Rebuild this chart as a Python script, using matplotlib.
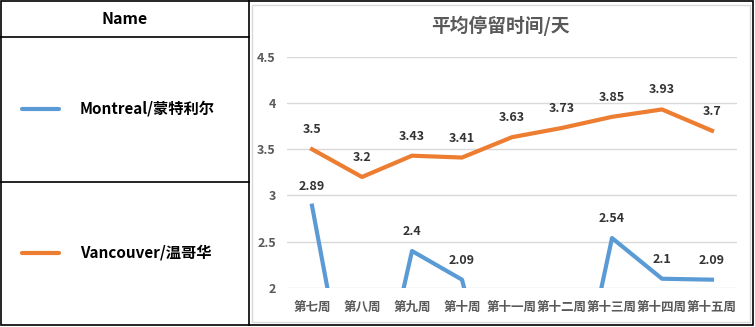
import matplotlib.pyplot as plt
from matplotlib.patches import Rectangle
from matplotlib.lines import Line2D

plt.rcParams['font.family'] = ['Noto Sans CJK SC', 'DejaVu Sans']

# datos
weeks = ['第七周', '第八周', '第九周', '第十周', '第十一周', '第十二周',
         '第十三周', '第十四周', '第十五周']
montreal = [2.89, 0, 2.4, 2.09, 0, 0, 2.54, 2.1, 2.09]
vancouver = [3.5, 3.2, 3.43, 3.41, 3.63, 3.73, 3.85, 3.93, 3.7]
series_names = ['Montreal/蒙特利尔', 'Vancouver/温哥华']
colors = ['#5B9BD5', '#ED7D31']
y_ticks = [2, 2.5, 3, 3.5, 4, 4.5]
y_tick_labels = ['2', '2.5', '3', '3.5', '4', '4.5']

W, H = 755, 327
fig = plt.figure(figsize=(W / 100, H / 100), dpi=100)


def fx(px):
    return px / W


def fy(py):
    return 1 - py / H


# tabla de la izquierda
black = '#000000'
fig.add_artist(Rectangle((fx(1), fy(325)), fx(752), 324 / H, transform=fig.transFigure,
                         fill=False, edgecolor=black, linewidth=1.2))
fig.add_artist(Line2D([fx(249), fx(249)], [fy(1), fy(325)], transform=fig.transFigure,
                      color=black, linewidth=1.2))
for yy in [37, 181.5]:
    fig.add_artist(Line2D([fx(1), fx(249)], [fy(yy), fy(yy)], transform=fig.transFigure,
                          color=black, linewidth=1.2))
fig.text(fx(125), fy(19), 'Name', ha='center', va='center', fontsize=11.5,
         fontweight='bold', color='#000000')
for name, c, yy in zip(series_names, colors, [109, 253]):
    fig.add_artist(Line2D([fx(22), fx(59)], [fy(yy), fy(yy)], transform=fig.transFigure,
                          color=c, linewidth=3, solid_capstyle='round'))
    fig.text(fx(80), fy(yy), name, ha='left', va='center', fontsize=11,
             fontweight='bold', color='#000000')

# borde del area del grafico
fig.add_artist(Rectangle((fx(252), fy(322)), fx(498), 317 / H, transform=fig.transFigure,
                         fill=False, edgecolor='#D9D9D9', linewidth=1))

ax = fig.add_axes([fx(287), fy(288), fx(450), (288 - 56.7) / H])
x = list(range(len(weeks)))
ax.plot(x, vancouver, color=colors[1], linewidth=3, zorder=3)
ax.plot(x, montreal, color=colors[0], linewidth=3, zorder=3)

for xs, vals in [(x, vancouver), (x, montreal)]:
    for xi, v in zip(xs, vals):
        if v >= 2:
            ax.annotate(str(v), (xi, v), xytext=(0, 14), textcoords='offset points',
                        ha='center', va='center', fontsize=9, fontweight='bold',
                        color='#333333')

ax.set_xlim(-0.5, len(weeks) - 0.5)
ax.set_ylim(2, 4.5)
ax.set_yticks(y_ticks)
ax.set_yticklabels(y_tick_labels)
ax.set_xticks(x)
ax.set_xticklabels(weeks)
ax.tick_params(axis='both', length=0, labelsize=9, colors='#595959')
ax.tick_params(axis='x', pad=9)
ax.tick_params(axis='y', pad=8)
for lbl in ax.get_xticklabels() + ax.get_yticklabels():
    lbl.set_fontweight('bold')
ax.grid(axis='y', color='#D9D9D9', linewidth=1)
ax.set_axisbelow(True)
for s in ax.spines.values():
    s.set_visible(False)

fig.text(fx(500), fy(26), '平均停留时间/天', ha='center', va='center', fontsize=13.5,
         fontweight='bold', color='#595959')

plt.savefig('out.png', dpi=100)
